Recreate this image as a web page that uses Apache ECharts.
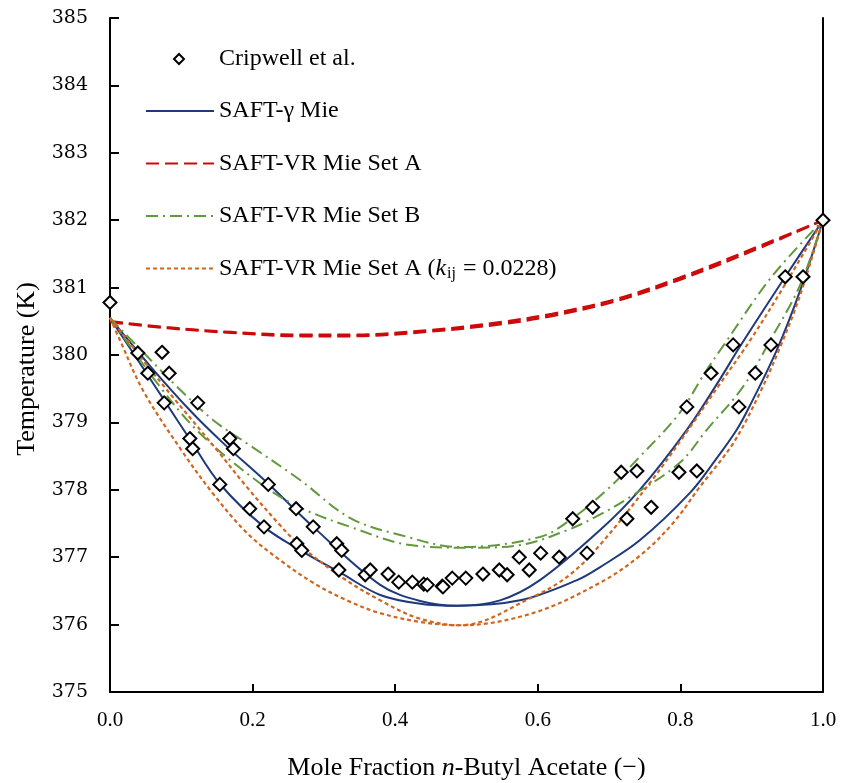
<!DOCTYPE html>
<html><head><meta charset="utf-8">
<script src="https://cdn.jsdelivr.net/npm/echarts@6/dist/echarts.min.js"></script>
<style>html,body{margin:0;padding:0;background:#fff}#c{width:844px;height:783px}</style>
</head><body><div id="c"></div>
<script>
// ---- Experimental data (Cripwell et al.) ----
const expX = [0.0,0.039,0.073,0.053,0.083,0.076,0.123,0.112,0.116,0.168,0.173,0.154,0.222,0.196,0.261,0.216,0.285,0.262,0.269,0.318,0.325,0.321,0.358,0.365,0.390,0.405,0.424,0.440,0.445,0.466,0.467,0.480,0.499,0.523,0.546,0.557,0.574,0.588,0.604,0.630,0.649,0.669,0.677,0.717,0.725,0.739,0.759,0.798,0.823,0.809,0.882,0.843,0.905,0.874,0.927,0.947,0.972,1.0];
const expT = [380.78,380.03,380.04,379.73,379.73,379.29,379.29,378.76,378.61,378.76,378.61,378.08,378.08,377.72,377.72,377.45,377.45,377.20,377.10,377.20,377.10,376.81,376.74,376.81,376.75,376.63,376.63,376.60,376.59,376.57,376.56,376.69,376.69,376.75,376.81,376.74,377.00,376.81,377.06,377.00,377.57,377.06,377.74,378.26,377.57,378.28,377.74,378.26,378.28,379.23,379.23,379.73,379.73,380.15,380.15,381.16,381.16,382.0];

// ---- SAFT-gamma Mie ----
const gammaBubX = [0,0.053,0.076,0.112,0.154,0.216,0.269,0.323,0.379,0.435,0.487,0.575,0.655,0.687,0.743,0.813,0.849,0.879,0.898,0.935,0.968,1.0];
const gammaBubT = [380.55,379.70,379.33,378.75,378.09,377.45,377.09,376.77,376.44,376.31,376.28,376.36,376.66,376.85,377.25,377.95,378.44,378.89,379.26,380.07,380.96,382.0];
const gammaDewX = [0,0.056,0.112,0.158,0.222,0.285,0.379,0.435,0.487,0.547,0.603,0.687,0.743,0.809,0.856,0.882,0.947,1.0];
const gammaDewT = [380.55,379.84,379.18,378.70,378.09,377.45,376.59,376.35,376.28,376.36,376.66,377.40,378.00,378.89,379.65,380.10,381.16,382.0];

// ---- SAFT-VR Mie Set A ----
const setAX = [0,0.08,0.17,0.27,0.34,0.45,0.55,0.62,0.71,0.80,0.90,1.0];
const setABubT = [380.49,380.40,380.33,380.28,380.28,380.35,380.46,380.58,380.80,381.12,381.54,382.0];
const setADewT = [380.50,380.41,380.34,380.30,380.30,380.37,380.49,380.61,380.83,381.15,381.57,382.0];

// ---- SAFT-VR Mie Set B ----
const setBBubX = [0,0.070,0.126,0.210,0.266,0.337,0.421,0.505,0.575,0.641,0.687,0.729,0.799,0.837,0.888,0.926,0.968,1.0];
const setBBubT = [380.55,379.53,378.84,378.10,377.74,377.45,377.18,377.14,377.18,377.40,377.63,377.89,378.40,378.89,379.53,380.22,381.04,382.0];
const setBDewX = [0,0.053,0.094,0.144,0.196,0.266,0.337,0.407,0.491,0.603,0.649,0.697,0.743,0.799,0.834,0.861,0.928,1.0];
const setBDewT = [380.55,379.97,379.53,379.04,378.66,378.15,377.58,377.33,377.15,377.30,377.58,378.00,378.49,379.14,379.73,380.15,381.16,382.0];

// ---- SAFT-VR Mie Set A (kij = 0.0228) ----
const kijBubX = [0,0.014,0.046,0.100,0.144,0.192,0.238,0.285,0.332,0.379,0.435,0.491,0.593,0.687,0.743,0.790,0.827,0.874,0.912,0.940,0.968,1.0];
const kijBubT = [380.55,380.22,379.48,378.59,377.95,377.36,376.96,376.62,376.36,376.17,376.04,375.99,376.17,376.62,377.02,377.51,378.04,378.69,379.45,380.12,380.89,382.0];
const kijDewX = [0,0.070,0.150,0.192,0.238,0.266,0.327,0.379,0.431,0.491,0.593,0.645,0.687,0.757,0.809,0.856,0.898,0.947,1.0];
const kijDewT = [380.55,379.61,378.59,378.04,377.48,377.18,376.69,376.36,376.10,375.99,376.41,376.74,377.18,378.10,378.86,379.58,380.22,381.05,382.0];

const N_EXP = 'Cripwell et al.';
const N_G = 'SAFT-γ Mie';
const N_A = 'SAFT-VR Mie Set A';
const N_B = 'SAFT-VR Mie Set B';
const N_K = 'SAFT-VR Mie Set A (kij = 0.0228)';

function zip(xs, ts){ return xs.map((x,i)=>[x, ts[i]]); }

const FONT = 'Liberation Serif';
const C_BLUE = '#1f3a7c', C_RED = '#cc0a0a', C_GREEN = '#63993d', C_ORANGE = '#d0661f';

function line(name, xs, ts, color, type, width){
  return {name, type:'line', data: zip(xs, ts), symbol:'none', showSymbol:false,
    smooth:0.35, lineStyle:{color, width, type}, itemStyle:{color}, silent:true, z:2};
}

const chart = echarts.init(document.getElementById('c'), null, {renderer:'canvas'});
const textBase = {fontFamily: FONT, fontSize: 24, color:'#000', lineHeight: 26};

chart.setOption({
  animation:false,
  backgroundColor:'#fff',
  grid:{left:110, right:21, top:18, bottom:91, containLabel:false, outerBoundsMode:'none'},
  xAxis:{type:'value', min:0, max:1, interval:0.2,
    axisLine:{lineStyle:{color:'#000', width:2}},
    axisTick:{inside:true, length:8, lineStyle:{color:'#000', width:2}},
    splitLine:{show:false},
    axisLabel:{formatter:v=>v.toFixed(1), fontFamily:FONT, fontSize:21, color:'#000', margin:18},
    name:'Mole Fraction {i|n}-Butyl Acetate (−)', nameLocation:'middle', nameGap:63,
    nameTextStyle:{fontFamily:FONT, fontSize:26, color:'#000', rich:{i:{fontFamily:FONT, fontSize:26, fontStyle:'italic', color:'#000'}}}
  },
  yAxis:[{type:'value', min:375, max:385, interval:1,
    axisLine:{show:true, lineStyle:{color:'#000', width:2}},
    axisTick:{show:true, inside:true, length:9, lineStyle:{color:'#000', width:2}},
    splitLine:{show:false},
    axisLabel:{fontFamily:'DejaVu Serif', fontSize:19, color:'#000', margin:22, padding:[4,0,0,0]},
    name:'Temperature (K)', nameLocation:'middle', nameGap:70,
    nameTextStyle:{fontFamily:FONT, fontSize:26, color:'#000', padding:[0,28,0,0]}
  },{type:'value', min:375, max:385, position:'right',
    axisLine:{show:true, lineStyle:{color:'#000', width:2}},
    axisTick:{show:false}, axisLabel:{show:false}, splitLine:{show:false}}],
  legend:[
    {data:[{name:N_EXP, icon:'diamond'}], left:168, top:41, itemWidth:10, itemHeight:10,
     selectedMode:false, textStyle:Object.assign({}, textBase, {padding:[0,0,0,30]})},
    {data:[N_G, N_A, N_B, N_K], orient:'vertical', left:140, top:93, itemWidth:68, itemHeight:14, itemGap:26.5,
     selectedMode:false, itemStyle:{opacity:0},
     formatter: n => n === N_K ? 'SAFT-VR Mie Set A ({i|k}{s|ij} = 0.0228)' : n,
     textStyle:Object.assign({}, textBase, {rich:{
       i:{fontFamily:FONT, fontSize:24, fontStyle:'italic', color:'#000', lineHeight:26},
       s:{fontFamily:FONT, fontSize:16, color:'#000', lineHeight:26, padding:[10,1,0,1]}
     }})}
  ],
  series:[
    line(N_G, gammaBubX, gammaBubT, C_BLUE, 'solid', 2),
    line(N_G, gammaDewX, gammaDewT, C_BLUE, 'solid', 2),
    line(N_A, setAX, setABubT, C_RED, [13,6], 2.5),
    line(N_A, setAX, setADewT, C_RED, [13,6], 2.5),
    line(N_B, setBBubX, setBBubT, C_GREEN, [12,5,2,5], 2),
    line(N_B, setBDewX, setBDewT, C_GREEN, [12,5,2,5], 2),
    line(N_K, kijBubX, kijBubT, C_ORANGE, [4,3], 2.2),
    line(N_K, kijDewX, kijDewT, C_ORANGE, [4,3], 2.2),
    {name:N_EXP, type:'scatter', data: zip(expX, expT), symbol:'diamond', symbolSize:13,
     itemStyle:{color:'#fff', borderColor:'#000', borderWidth:2, opacity:1}, z:10, silent:true}
  ]
});
</script></body></html>
